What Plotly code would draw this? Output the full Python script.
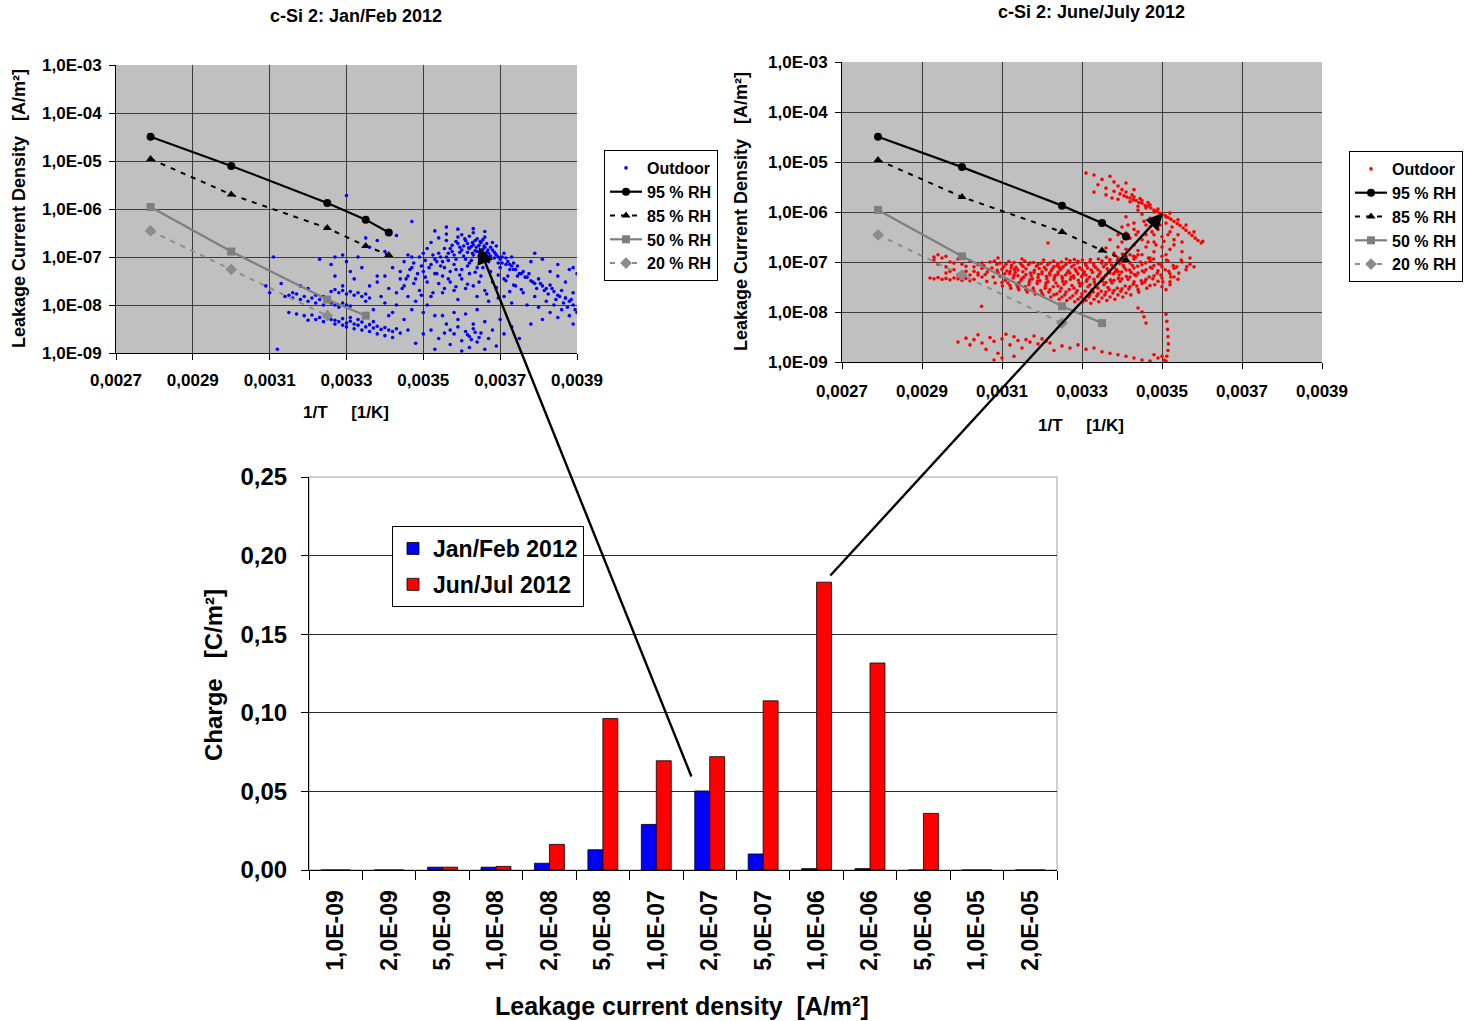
import plotly.graph_objects as go

W, H = 1465, 1021

# ---------------- data: laboratory RH curves (same in both scatter charts) ----------------
rh95_x = [0.00279, 0.00300, 0.00325, 0.00335, 0.00341]
rh95_y = [3.2e-5, 7.9e-6, 1.34e-6, 6.0e-7, 3.25e-7]
rh85_x = [0.00279, 0.00300, 0.00325, 0.00335, 0.00341]
rh85_y = [1.1e-5, 2.0e-6, 4.0e-7, 1.7e-7, 1.1e-7]
rh50_x = [0.00279, 0.00300, 0.00325, 0.00335]
rh50_y = [1.1e-6, 1.3e-7, 1.3e-8, 6.0e-9]
rh20_x = [0.00279, 0.00300, 0.00325]
rh20_y = [3.5e-7, 5.5e-8, 6.0e-9]

# ---------------- data: outdoor Jan/Feb (x = 1/T, y = leakage current density) ----------------
jan_peak = [
    (0.00362, 1.5e-7), (0.00363, 1.8e-7), (0.00364, 1.3e-7), (0.00365, 2.0e-7), (0.00361, 2.2e-7),
    (0.00366, 1.6e-7), (0.00363, 1.1e-7), (0.00360, 1.4e-7), (0.00359, 1.9e-7), (0.00367, 1.2e-7),
    (0.00364, 2.4e-7), (0.00362, 2.7e-7), (0.00358, 1.1e-7), (0.00368, 1.4e-7), (0.00361, 9e-8),
    (0.00365, 9.5e-8), (0.00369, 1.1e-7), (0.00357, 1.5e-7), (0.00356, 1.0e-7), (0.00360, 2.9e-7),
    (0.00366, 2.6e-7), (0.00363, 3.2e-7), (0.00370, 9e-8), (0.00371, 1.2e-7), (0.00355, 8e-8),
    (0.00358, 7e-8), (0.00362, 7.5e-8), (0.00367, 8e-8), (0.00354, 1.2e-7), (0.00353, 9e-8),
    (0.00372, 8e-8), (0.00373, 6.5e-8), (0.00356, 2.2e-7), (0.00359, 2.6e-7), (0.00352, 7e-8),
    (0.00351, 1.5e-7), (0.00366, 3.4e-7), (0.00368, 2.0e-7), (0.00364, 6e-8), (0.00360, 5.5e-8),
    (0.00357, 5e-8), (0.00370, 6e-8), (0.00374, 5.5e-8), (0.00375, 4.5e-8), (0.00376, 5e-8),
    (0.00377, 3.8e-8), (0.00378, 3.2e-8), (0.00379, 2.8e-8), (0.00380, 3.5e-8), (0.00381, 2.5e-8),
    (0.00382, 2.2e-8), (0.00383, 2.6e-8), (0.00384, 1.9e-8), (0.00385, 1.6e-8), (0.00386, 2.0e-8),
    (0.00387, 1.4e-8), (0.00388, 1.2e-8), (0.00389, 1.0e-8), (0.00372, 4e-8), (0.00371, 3.5e-8),
    (0.00355, 4e-8), (0.00353, 4.5e-8), (0.00350, 5e-8), (0.00349, 1.0e-7), (0.00347, 6e-8),
    (0.00348, 3.5e-8), (0.00346, 4e-8), (0.00345, 2.5e-8), (0.00344, 5e-8), (0.00351, 3e-8),
    (0.00354, 2.8e-8), (0.00357, 3e-8), (0.00360, 3.5e-8), (0.00362, 4.5e-8), (0.00365, 4e-8),
    (0.00368, 3e-8), (0.00363, 2.5e-8), (0.00358, 2e-8), (0.00361, 2.2e-8), (0.00366, 2e-8),
    (0.00369, 2.3e-8), (0.00374, 2.5e-8), (0.00376, 1.8e-8), (0.00379, 1.5e-8), (0.00382, 1.2e-8),
    (0.00384, 1.0e-8), (0.00386, 8e-9), (0.00388, 6e-9), (0.00390, 7e-9), (0.00389, 1.8e-8),
    (0.00387, 3e-8), (0.00385, 4e-8), (0.00383, 5e-8), (0.00390, 4.5e-8), (0.00388, 5.5e-8),
    (0.00378, 8e-8), (0.00373, 1.0e-7), (0.00369, 1.7e-7), (0.00356, 3e-7), (0.00354, 2.5e-7),
    (0.00352, 2.0e-7), (0.00350, 1.2e-7), (0.00347, 1.0e-7), (0.00345, 8e-8), (0.00342, 6e-8),
    (0.00340, 4e-8), (0.00338, 3e-8), (0.00343, 1.8e-8), (0.00341, 2.2e-8), (0.00346, 1.5e-8),
    (0.00349, 2e-8), (0.00352, 1.5e-8), (0.00355, 1.8e-8), (0.00359, 1.3e-8), (0.00364, 1.5e-8),
    (0.00367, 1.2e-8), (0.00371, 1.5e-8), (0.00373, 1.1e-8), (0.00377, 1.0e-8), (0.00380, 9e-9),
    (0.00383, 7e-9), (0.00385, 5.5e-9), (0.00389, 4e-9), (0.00387, 1.4e-8), (0.00381, 5e-9),
    (0.003625, 1.65e-7), (0.003635, 1.35e-7), (0.003645, 1.75e-7), (0.003615, 1.25e-7), (0.003655, 1.45e-7),
    (0.003605, 1.7e-7), (0.003665, 1.9e-7), (0.003595, 1.25e-7), (0.003675, 1.05e-7), (0.003585, 9e-8),
    (0.003685, 9.5e-8), (0.003695, 7.5e-8), (0.003575, 1.3e-7), (0.003565, 8.5e-8), (0.003545, 6.5e-8),
    (0.003705, 1.0e-7), (0.003715, 7e-8), (0.003725, 5.5e-8), (0.003735, 7.5e-8), (0.003745, 4e-8),
]
jan_peak_fill = [
    (0.003605, 1.05e-7), (0.003615, 1.9e-7), (0.003625, 8.5e-8), (0.003635, 2.2e-7), (0.003645, 1.05e-7),
    (0.003655, 2.3e-7), (0.003665, 1.25e-7), (0.003675, 1.6e-7), (0.003685, 1.25e-7), (0.003695, 1.0e-7),
    (0.003595, 1.6e-7), (0.003585, 2.1e-7), (0.003575, 1.75e-7), (0.003565, 1.2e-7), (0.003555, 1.5e-7),
    (0.003545, 1.0e-7), (0.003535, 8e-8), (0.003525, 1.1e-7), (0.003515, 6e-8), (0.003505, 8.5e-8),
    (0.003495, 6.5e-8), (0.003485, 4.5e-8), (0.003475, 7.5e-8), (0.003465, 5.5e-8), (0.003455, 3.5e-8),
    (0.003705, 7.5e-8), (0.003715, 9.5e-8), (0.003725, 7e-8), (0.003735, 5.5e-8), (0.003745, 6.5e-8),
    (0.003755, 4.5e-8), (0.003765, 3.8e-8), (0.003775, 4.5e-8), (0.003785, 3e-8), (0.003795, 2.2e-8),
    (0.003805, 2.8e-8), (0.003815, 2e-8), (0.003825, 1.7e-8), (0.003835, 2.2e-8), (0.003845, 1.3e-8),
    (0.003855, 1.5e-8), (0.003865, 1.1e-8), (0.003875, 9e-9), (0.003885, 1.3e-8), (0.003895, 8e-9),
    (0.003615, 6.5e-8), (0.003585, 5.5e-8), (0.003555, 6e-8), (0.003655, 6e-8), (0.003675, 5e-8),
    (0.003635, 4.8e-8), (0.003595, 4.2e-8), (0.003565, 3.5e-8), (0.003535, 4.5e-8), (0.003505, 3.8e-8),
    (0.003475, 2.8e-8), (0.003445, 2.2e-8), (0.003695, 4.2e-8), (0.003715, 3.2e-8), (0.003735, 2.6e-8),
    (0.003755, 2.1e-8), (0.003645, 3e-8), (0.003615, 2.7e-8), (0.003585, 2.4e-8), (0.003555, 2.2e-8),
    (0.003525, 1.8e-8), (0.003495, 1.6e-8), (0.003665, 1.7e-8), (0.003695, 1.4e-8), (0.003725, 1.9e-8),
    (0.003628, 1.2e-7), (0.003638, 1.6e-7), (0.003648, 1.25e-7), (0.003618, 1.55e-7), (0.003658, 1.7e-7),
    (0.003608, 2.4e-7), (0.003628, 2.0e-7), (0.003648, 2.1e-7), (0.003668, 1.4e-7), (0.003688, 1.15e-7),
]
jan_lower = [
    (0.00352, 3e-9), (0.00354, 2e-9), (0.00356, 4e-9), (0.00357, 1.5e-9), (0.00358, 2.5e-9),
    (0.00359, 3.5e-9), (0.00360, 1.8e-9), (0.00361, 2.8e-9), (0.00362, 2.2e-9), (0.00363, 3.2e-9),
    (0.00362, 1.3e-9), (0.00364, 1.7e-9), (0.00365, 2.6e-9), (0.00366, 4.5e-9), (0.00367, 2e-9),
    (0.00368, 3e-9), (0.00369, 1.4e-9), (0.00370, 5e-9), (0.00355, 6e-9), (0.00358, 7e-9),
    (0.00361, 6.5e-9), (0.00364, 8e-9), (0.00350, 2.5e-9), (0.00348, 1.6e-9), (0.00346, 3e-9),
    (0.00353, 1.2e-9), (0.00371, 2.5e-9), (0.00373, 3.5e-9), (0.00375, 2e-9), (0.00378, 4e-9),
    (0.00360, 1.1e-9), (0.00366, 1.2e-9), (0.00363, 4e-9), (0.00359, 5e-9), (0.00357, 3e-9),
    (0.003615, 2.4e-9), (0.003625, 1.9e-9), (0.003635, 2.7e-9), (0.003645, 2.1e-9), (0.003555, 2.6e-9),
]
jan_mid = [
    (0.00335, 1.2e-8), (0.00337, 8e-9), (0.00339, 1.5e-8), (0.00341, 6e-9), (0.00343, 1e-8),
    (0.00344, 3.5e-8), (0.00336, 2.5e-8), (0.00338, 4e-8), (0.00340, 1.1e-8), (0.00342, 7e-9),
    (0.00345, 5e-9), (0.00347, 8e-9), (0.00348, 1.2e-8), (0.00350, 7e-9), (0.00351, 1e-8),
    (0.00353, 6e-9), (0.00334, 6e-8), (0.00333, 1.0e-7), (0.00331, 5e-8), (0.00329, 2.5e-8),
    (0.00332, 3.5e-8), (0.00346, 1.1e-7), (0.00340, 1.3e-7), (0.00336, 1.6e-7), (0.00330, 8e-8),
    (0.00327, 4e-8), (0.00385, 7e-8), (0.00389, 6e-8), (0.00381, 9e-8), (0.00379, 1.2e-7),
]
jan_tail_upper = [
    (0.00314, 1.5e-8), (0.00315, 1.6e-8), (0.00316, 1.4e-8), (0.00317, 1.7e-8), (0.00318, 1.3e-8),
    (0.00319, 1.5e-8), (0.00320, 1.2e-8), (0.00321, 1.4e-8), (0.00322, 1.1e-8), (0.00323, 1.3e-8),
    (0.00324, 1.0e-8), (0.00325, 1.2e-8), (0.00326, 1.1e-8), (0.00327, 1.0e-8), (0.00328, 9e-9),
    (0.00329, 1.1e-8), (0.00330, 1.0e-8), (0.00331, 9.5e-9), (0.00326, 1.9e-8), (0.00327, 2.1e-8),
    (0.00328, 1.8e-8), (0.00329, 2.0e-8), (0.00330, 1.7e-8), (0.00331, 1.9e-8), (0.00332, 1.6e-8),
    (0.00333, 1.8e-8), (0.00334, 1.5e-8), (0.00335, 1.7e-8), (0.00336, 1.4e-8), (0.00320, 2.2e-8),
    (0.00318, 2.5e-8), (0.00316, 1.8e-8), (0.00322, 1.6e-8), (0.00324, 1.5e-8),
]
jan_tail_lower = [
    (0.00315, 7e-9), (0.00317, 6.5e-9), (0.00319, 6e-9), (0.00321, 6.2e-9), (0.00323, 5.5e-9),
    (0.00325, 5.8e-9), (0.00326, 5e-9), (0.00327, 4.8e-9), (0.00328, 4.5e-9), (0.00329, 5.2e-9),
    (0.00330, 4.2e-9), (0.00331, 4.6e-9), (0.00332, 4e-9), (0.00333, 3.8e-9), (0.00334, 4.4e-9),
    (0.00335, 3.5e-9), (0.00336, 3.9e-9), (0.00337, 3.3e-9), (0.00338, 3.6e-9), (0.00339, 3.1e-9),
    (0.00340, 3.4e-9), (0.00341, 3e-9), (0.00342, 2.8e-9), (0.00343, 3.2e-9), (0.00344, 2.6e-9),
    (0.00330, 3.5e-9), (0.00332, 3.2e-9), (0.00334, 3e-9), (0.00336, 2.8e-9), (0.00338, 2.5e-9),
    (0.00329, 3.8e-9), (0.00327, 4e-9), (0.00333, 5e-9), (0.00331, 5.5e-9), (0.00324, 4.5e-9),
    (0.00322, 5e-9), (0.00320, 4.8e-9), (0.00340, 2.3e-9), (0.00342, 2.1e-9), (0.00337, 4.5e-9),
]
jan_outliers = [
    (0.00330, 1.9e-6), (0.00347, 5.5e-7), (0.00312, 1.2e-9), (0.00311, 1.0e-7), (0.00309, 2.5e-8),
    (0.00310, 1.8e-8), (0.00313, 2.8e-8), (0.00326, 7e-8), (0.00323, 9e-8), (0.00327, 1.0e-7),
    (0.00329, 1.1e-7), (0.00335, 2.5e-7), (0.00338, 2.2e-7), (0.00343, 2.8e-7), (0.00353, 3.5e-7),
    (0.00359, 3.8e-7), (0.00363, 3.9e-7), (0.00356, 4.2e-7),
]

# ---------------- data: outdoor June/July ----------------
jun_band = [
    (0.002920, 4.8e-8), (0.002930, 4.6e-8), (0.002940, 4.9e-8), (0.002950, 4.5e-8), (0.002960, 4.7e-8),
    (0.002970, 4.4e-8), (0.002980, 4.8e-8), (0.002990, 4.6e-8), (0.003000, 4.3e-8), (0.003010, 4.7e-8),
    (0.003020, 4.2e-8), (0.003030, 4.5e-8),
    (0.002930, 1.1e-7), (0.002940, 9e-8), (0.002950, 1.2e-7), (0.002960, 8e-8), (0.002970, 1.0e-7),
    (0.002980, 7e-8), (0.002990, 1.15e-7), (0.003000, 9e-8), (0.003010, 6.5e-8), (0.003020, 1.05e-7),
    (0.003030, 8e-8), (0.003040, 6e-8), (0.003050, 9.5e-8), (0.002960, 6e-8), (0.002990, 5.5e-8),
    (0.003020, 5.5e-8),
    (0.003062, 4.1e-8), (0.003058, 5.6e-8), (0.003066, 7.1e-8), (0.003055, 8.4e-8), (0.003070, 1.0e-7),
    (0.003083, 3.8e-8), (0.003078, 5.0e-8), (0.003090, 6.1e-8), (0.003075, 7.6e-8), (0.003087, 9.0e-8),
    (0.003081, 1.04e-7), (0.003101, 3.3e-8), (0.003108, 4.3e-8), (0.003096, 5.2e-8), (0.003112, 6.6e-8),
    (0.003104, 8.0e-8), (0.003095, 9.5e-8), (0.003122, 3.0e-8), (0.003115, 3.8e-8), (0.003128, 4.8e-8),
    (0.003119, 5.9e-8), (0.003131, 7.0e-8), (0.003124, 8.6e-8), (0.003117, 1.02e-7), (0.003142, 2.8e-8),
    (0.003137, 3.5e-8), (0.003148, 4.4e-8), (0.003140, 5.3e-8), (0.003152, 6.4e-8), (0.003135, 7.8e-8),
    (0.003146, 9.4e-8), (0.003163, 2.5e-8), (0.003158, 3.2e-8), (0.003168, 4.0e-8), (0.003155, 5.0e-8),
    (0.003171, 6.0e-8), (0.003160, 7.3e-8), (0.003166, 8.8e-8), (0.003157, 1.05e-7), (0.003183, 2.3e-8),
    (0.003178, 3.0e-8), (0.003188, 3.7e-8), (0.003176, 4.6e-8), (0.003191, 5.6e-8), (0.003181, 6.8e-8),
    (0.003186, 8.2e-8), (0.003179, 9.8e-8), (0.003203, 2.1e-8), (0.003197, 2.7e-8), (0.003209, 3.4e-8),
    (0.003195, 4.2e-8), (0.003211, 5.2e-8), (0.003200, 6.4e-8), (0.003206, 7.8e-8), (0.003198, 9.4e-8),
    (0.003204, 1.1e-7), (0.003222, 2.0e-8), (0.003217, 2.5e-8), (0.003228, 3.2e-8), (0.003215, 4.0e-8),
    (0.003231, 4.9e-8), (0.003219, 6.0e-8), (0.003226, 7.3e-8), (0.003214, 8.8e-8), (0.003229, 1.05e-7),
    (0.003243, 1.8e-8), (0.003237, 2.3e-8), (0.003248, 3.0e-8), (0.003235, 3.8e-8), (0.003251, 4.7e-8),
    (0.003240, 5.7e-8), (0.003246, 7.0e-8), (0.003238, 8.5e-8), (0.003249, 1.0e-7), (0.003262, 1.7e-8),
    (0.003257, 2.2e-8), (0.003268, 2.8e-8), (0.003255, 3.6e-8), (0.003271, 4.5e-8), (0.003259, 5.5e-8),
    (0.003266, 6.7e-8), (0.003254, 8.2e-8), (0.003269, 9.8e-8), (0.003261, 1.15e-7), (0.003282, 1.6e-8),
    (0.003277, 2.1e-8), (0.003288, 2.7e-8), (0.003275, 3.4e-8), (0.003291, 4.3e-8), (0.003279, 5.3e-8),
    (0.003286, 6.5e-8), (0.003274, 8.0e-8), (0.003289, 9.6e-8), (0.003281, 1.12e-7), (0.003302, 1.6e-8),
    (0.003297, 2.0e-8), (0.003308, 2.6e-8), (0.003295, 3.3e-8), (0.003311, 4.1e-8), (0.003299, 5.1e-8),
    (0.003306, 6.3e-8), (0.003294, 7.7e-8), (0.003309, 9.3e-8), (0.003301, 1.1e-7), (0.003322, 1.5e-8),
    (0.003317, 2.0e-8), (0.003328, 2.5e-8), (0.003315, 3.2e-8), (0.003331, 4.0e-8), (0.003319, 5.0e-8),
    (0.003326, 6.2e-8), (0.003314, 7.6e-8), (0.003329, 9.2e-8), (0.003321, 1.12e-7), (0.003342, 1.6e-8),
    (0.003337, 2.1e-8), (0.003348, 2.6e-8), (0.003335, 3.3e-8), (0.003351, 4.1e-8), (0.003339, 5.1e-8),
    (0.003346, 6.3e-8), (0.003334, 7.8e-8), (0.003349, 9.5e-8), (0.003341, 1.15e-7), (0.003362, 1.7e-8),
    (0.003357, 2.2e-8), (0.003368, 2.8e-8), (0.003355, 3.5e-8), (0.003371, 4.4e-8), (0.003359, 5.4e-8),
    (0.003366, 6.6e-8), (0.003354, 8.1e-8), (0.003369, 1.0e-7), (0.003361, 1.25e-7), (0.003382, 1.8e-8),
    (0.003377, 2.4e-8), (0.003388, 3.0e-8), (0.003375, 3.8e-8), (0.003391, 4.7e-8), (0.003379, 5.8e-8),
    (0.003386, 7.1e-8), (0.003374, 8.7e-8), (0.003389, 1.07e-7), (0.003381, 1.35e-7), (0.003402, 2.0e-8),
    (0.003397, 2.6e-8), (0.003408, 3.3e-8), (0.003395, 4.1e-8), (0.003411, 5.1e-8), (0.003399, 6.3e-8),
    (0.003406, 7.7e-8), (0.003394, 9.4e-8), (0.003409, 1.15e-7), (0.003401, 1.45e-7), (0.003422, 2.2e-8),
    (0.003417, 2.9e-8), (0.003428, 3.6e-8), (0.003415, 4.5e-8), (0.003431, 5.6e-8), (0.003419, 6.9e-8),
    (0.003426, 8.5e-8), (0.003414, 1.05e-7), (0.003429, 1.3e-7), (0.003442, 2.5e-8), (0.003437, 3.3e-8),
    (0.003448, 4.2e-8), (0.003435, 5.3e-8), (0.003451, 6.6e-8), (0.003439, 8.2e-8), (0.003446, 1.0e-7),
    (0.003434, 1.25e-7), (0.003462, 3.0e-8), (0.003457, 4.0e-8), (0.003468, 5.0e-8), (0.003455, 6.3e-8),
    (0.003471, 7.8e-8), (0.003459, 9.6e-8), (0.003466, 1.2e-7), (0.003482, 3.5e-8), (0.003477, 4.6e-8),
    (0.003488, 6.0e-8), (0.003475, 7.5e-8), (0.003491, 9.3e-8), (0.003479, 1.15e-7), (0.003502, 4.0e-8),
    (0.003497, 5.5e-8), (0.003508, 7.0e-8), (0.003495, 9.0e-8), (0.003511, 1.1e-7), (0.003522, 5.0e-8),
    (0.003517, 6.5e-8), (0.003528, 8.5e-8), (0.003515, 1.05e-7), (0.003542, 6.0e-8), (0.003537, 8.0e-8),
    (0.003548, 1.1e-7), (0.003562, 8.0e-8),
]
jun_band_extra = [
    (0.003107, 5.8e-8), (0.003133, 6.2e-8), (0.003173, 5.3e-8), (0.003189, 4.1e-8), (0.003212, 4.6e-8),
    (0.003233, 5.4e-8), (0.003252, 4.1e-8), (0.003273, 5.0e-8), (0.003293, 3.8e-8), (0.003313, 4.5e-8),
    (0.003333, 3.6e-8), (0.003353, 4.7e-8), (0.003373, 4.1e-8), (0.003393, 5.5e-8), (0.003143, 3.9e-8),
    (0.003167, 3.5e-8), (0.003208, 3.0e-8), (0.003245, 2.6e-8), (0.003285, 2.4e-8), (0.003325, 2.8e-8),
    (0.003365, 3.1e-8), (0.003223, 6.7e-8), (0.003263, 6.1e-8), (0.003303, 5.7e-8), (0.003343, 5.7e-8),
    (0.003383, 6.4e-8), (0.003423, 6.2e-8), (0.003193, 7.4e-8), (0.003243, 7.8e-8), (0.003283, 7.2e-8),
    (0.003323, 6.9e-8), (0.003363, 7.3e-8), (0.003403, 8.5e-8), (0.003123, 7.7e-8), (0.003153, 8.1e-8),
    (0.003088, 6.8e-8), (0.003063, 6.3e-8), (0.002940, 1.4e-7), (0.002960, 1.3e-7), (0.002930, 1.25e-7),
    (0.003000, 1.35e-7), (0.003090, 1.2e-7), (0.003150, 1.15e-7), (0.003049, 1.3e-8), (0.003215, 2.4e-7),
]
jun_band_fill = [
    (0.003100, 3.9e-8), (0.003100, 7.2e-8), (0.003110, 4.5e-8), (0.003110, 9.0e-8), (0.003120, 3.4e-8),
    (0.003120, 6.5e-8), (0.003130, 5.4e-8), (0.003130, 9.8e-8), (0.003140, 3.1e-8), (0.003140, 6.9e-8),
    (0.003150, 4.7e-8), (0.003150, 8.6e-8), (0.003160, 2.8e-8), (0.003160, 5.6e-8), (0.003170, 4.4e-8),
    (0.003170, 9.6e-8), (0.003180, 2.6e-8), (0.003180, 6.2e-8), (0.003190, 4.9e-8), (0.003190, 8.9e-8),
    (0.003200, 2.4e-8), (0.003200, 5.8e-8), (0.003210, 3.8e-8), (0.003210, 7.1e-8), (0.003220, 2.8e-8),
    (0.003220, 5.5e-8), (0.003220, 9.6e-8), (0.003230, 2.2e-8), (0.003230, 4.4e-8), (0.003230, 8.1e-8),
    (0.003240, 3.3e-8), (0.003240, 6.3e-8), (0.003240, 9.3e-8), (0.003250, 2.0e-8), (0.003250, 5.1e-8),
    (0.003250, 7.6e-8), (0.003260, 2.5e-8), (0.003260, 4.0e-8), (0.003260, 8.9e-8), (0.003270, 1.9e-8),
    (0.003270, 6.0e-8), (0.003270, 1.06e-7), (0.003280, 3.0e-8), (0.003280, 4.8e-8), (0.003280, 8.7e-8),
    (0.003290, 1.8e-8), (0.003290, 5.8e-8), (0.003290, 1.03e-7), (0.003300, 2.3e-8), (0.003300, 3.7e-8),
    (0.003300, 7.0e-8), (0.003310, 1.7e-8), (0.003310, 5.5e-8), (0.003310, 8.5e-8), (0.003320, 2.2e-8),
    (0.003320, 3.5e-8), (0.003320, 1.0e-7), (0.003330, 1.8e-8), (0.003330, 4.5e-8), (0.003330, 8.3e-8),
    (0.003340, 2.3e-8), (0.003340, 3.0e-8), (0.003340, 7.0e-8), (0.003350, 1.9e-8), (0.003350, 4.6e-8),
    (0.003350, 1.05e-7), (0.003360, 2.5e-8), (0.003360, 3.9e-8), (0.003360, 9.0e-8), (0.003370, 2.0e-8),
    (0.003370, 6.0e-8), (0.003370, 1.12e-7), (0.003380, 2.7e-8), (0.003380, 4.3e-8), (0.003380, 7.9e-8),
    (0.003390, 2.2e-8), (0.003390, 6.5e-8), (0.003390, 1.2e-7), (0.003400, 2.9e-8), (0.003400, 4.6e-8),
    (0.003400, 1.05e-7), (0.003410, 2.4e-8), (0.003410, 7.0e-8), (0.003410, 1.3e-7), (0.003420, 3.2e-8),
    (0.003420, 5.0e-8), (0.003420, 9.5e-8), (0.003430, 4.0e-8), (0.003430, 7.6e-8), (0.003430, 1.15e-7),
    (0.003440, 2.8e-8), (0.003440, 6.0e-8), (0.003440, 1.4e-7), (0.003450, 3.7e-8), (0.003450, 8.8e-8),
    (0.003460, 4.5e-8), (0.003460, 7.0e-8), (0.003470, 3.4e-8), (0.003470, 1.05e-7), (0.003480, 5.3e-8),
    (0.003480, 8.5e-8), (0.003490, 4.1e-8), (0.003490, 6.7e-8), (0.003500, 4.8e-8), (0.003500, 8.0e-8),
    (0.003520, 5.8e-8), (0.003530, 7.5e-8), (0.003050, 5.0e-8), (0.003050, 7.5e-8), (0.003040, 5.5e-8),
    (0.003040, 8.8e-8), (0.003030, 6.5e-8), (0.003010, 8.2e-8), (0.003000, 6.0e-8), (0.002980, 9.5e-8),
    (0.002970, 6.5e-8),
]
jun_streak = [
    (0.003395, 2.3e-6), (0.003405, 2.1e-6), (0.003412, 2.0e-6), (0.003420, 1.9e-6), (0.003428, 1.75e-6),
    (0.003435, 1.7e-6), (0.003442, 1.55e-6), (0.003450, 1.5e-6), (0.003458, 1.35e-6), (0.003465, 1.3e-6),
    (0.003472, 1.2e-6), (0.003480, 1.1e-6), (0.003487, 1.05e-6), (0.003494, 9.5e-7), (0.003500, 9e-7),
    (0.003508, 8.5e-7), (0.003515, 7.8e-7), (0.003522, 7.2e-7), (0.003530, 6.5e-7), (0.003538, 5.9e-7),
    (0.003545, 5.4e-7), (0.003553, 4.8e-7), (0.003560, 4.3e-7), (0.003568, 3.8e-7), (0.003575, 3.4e-7),
    (0.003583, 3.0e-7), (0.003590, 2.7e-7), (0.003598, 2.4e-7), (0.003602, 2.6e-7),
    (0.003410, 2.5e-6), (0.003430, 2.0e-6), (0.003450, 1.7e-6), (0.003470, 1.4e-6), (0.003490, 1.15e-6),
    (0.003440, 1.3e-6), (0.003460, 1.2e-6), (0.003480, 1.0e-6), (0.003510, 8e-7), (0.003520, 9.5e-7),
    (0.003540, 7e-7), (0.003560, 5.5e-7), (0.003580, 4e-7), (0.003420, 1.6e-6), (0.003390, 1.8e-6),
    (0.003400, 2.8e-6), (0.003380, 2.6e-6), (0.003425, 2.2e-6), (0.003445, 1.85e-6), (0.003465, 1.55e-6),
]
jun_upper_sparse = [
    (0.00333, 5.5e-6), (0.00335, 4.5e-6), (0.00334, 3.5e-6), (0.00337, 5.2e-6), (0.00336, 3e-6),
    (0.00338, 4e-6), (0.00339, 3.3e-6), (0.00331, 6e-6), (0.00333, 2.5e-6), (0.00336, 2.2e-6),
    (0.003375, 1.9e-6), (0.00341, 3.8e-6), (0.00343, 2.8e-6),
]
jun_between = [
    (0.00338, 1.5e-7), (0.00339, 2e-7), (0.00340, 2.5e-7), (0.00341, 1.8e-7), (0.00342, 3e-7),
    (0.00343, 2.2e-7), (0.00344, 4e-7), (0.00345, 2.8e-7), (0.00346, 3.5e-7), (0.00347, 5e-7),
    (0.00348, 2.5e-7), (0.00349, 4.5e-7), (0.00350, 3.2e-7), (0.00351, 6e-7), (0.00352, 4e-7),
    (0.00353, 2.8e-7), (0.00354, 3.5e-7), (0.00350, 2e-7), (0.00348, 1.6e-7), (0.00346, 2e-7),
    (0.00344, 1.7e-7), (0.00342, 1.4e-7), (0.00352, 1.8e-7), (0.00353, 2.2e-7), (0.00349, 6.5e-7),
    (0.00347, 7.5e-7), (0.00345, 9e-7), (0.00343, 6e-7), (0.00341, 8e-7), (0.00344, 1.1e-6),
    (0.00346, 5.5e-7), (0.00348, 3.5e-7), (0.00351, 1.4e-7), (0.00355, 1.6e-7), (0.00355, 2.5e-7),
    (0.00340, 5e-7), (0.00339, 3.5e-7), (0.00337, 2.8e-7), (0.00336, 1.9e-7), (0.00345, 1.4e-7),
    (0.00347, 1.2e-7), (0.00350, 1.3e-7), (0.00343, 4.5e-7), (0.00341, 3.8e-7), (0.00349, 8e-7),
    (0.003455, 6.5e-7), (0.003475, 4e-7), (0.003495, 5.5e-7), (0.003515, 3.5e-7), (0.003435, 3.5e-7),
    (0.003485, 2.2e-7), (0.003505, 2.6e-7), (0.003465, 2.5e-7), (0.003525, 5e-7), (0.003415, 5.5e-7),
]
jun_right = [
    (0.00355, 1e-7), (0.00356, 7e-8), (0.00357, 9e-8), (0.00357, 1.2e-7), (0.00358, 8e-8),
    (0.00353, 5e-8), (0.00352, 4e-8), (0.00354, 4.5e-8), (0.00352, 3.5e-8), (0.00351, 2.8e-8),
    (0.00350, 3.2e-8),
]
jun_lower = [
    (0.00299, 2.5e-9), (0.00301, 3e-9), (0.00302, 2.2e-9), (0.00303, 2.8e-9), (0.00304, 3.5e-9),
    (0.00305, 2.4e-9), (0.00306, 1.8e-9), (0.00307, 3.1e-9), (0.00308, 2.6e-9), (0.00309, 1.5e-9),
    (0.00310, 2.9e-9), (0.00311, 3.6e-9), (0.00312, 2.2e-9), (0.00313, 3.2e-9), (0.00314, 2.7e-9),
    (0.00315, 1.9e-9), (0.00316, 2.8e-9), (0.00317, 2.5e-9), (0.00318, 3.3e-9), (0.00319, 2.3e-9),
    (0.00320, 2.9e-9), (0.00321, 2.6e-9), (0.00322, 2.4e-9), (0.00323, 1.7e-9), (0.00325, 2.1e-9),
    (0.00327, 1.9e-9), (0.00329, 2.2e-9), (0.00331, 1.8e-9), (0.00333, 1.9e-9), (0.00335, 1.6e-9),
    (0.00337, 1.5e-9), (0.00339, 1.4e-9), (0.00341, 1.3e-9), (0.00343, 1.2e-9), (0.00345, 1.1e-9),
    (0.00347, 1.05e-9), (0.00349, 1.2e-9), (0.00348, 1.4e-9), (0.00310, 1.2e-9), (0.00308, 1.1e-9),
    (0.00313, 1.3e-9),
    (0.003510, 9e-9), (0.003512, 6.5e-9), (0.003514, 4.5e-9), (0.003515, 3.2e-9), (0.003516, 2.3e-9),
    (0.003515, 1.7e-9), (0.003512, 1.3e-9), (0.003510, 1.05e-9), (0.003505, 1.1e-9), (0.003500, 1.3e-9),
    (0.00344, 1.2e-8), (0.00345, 1e-8), (0.003455, 8e-9), (0.00346, 6e-9),
]

# ---------------- data: bar chart ----------------
bar_categories = ["1,0E-09", "2,0E-09", "5,0E-09", "1,0E-08", "2,0E-08", "5,0E-08", "1,0E-07",
                  "2,0E-07", "5,0E-07", "1,0E-06", "2,0E-06", "5,0E-06", "1,0E-05", "2,0E-05"]
charge_janfeb = [0, 0, 0.0018, 0.0018, 0.0043, 0.0129, 0.029, 0.0503, 0.0102, 0.0009, 0.0009, 0, 0, 0]
charge_junjul = [0, 0, 0.0018, 0.0023, 0.0163, 0.0964, 0.0695, 0.0721, 0.1076, 0.1831, 0.1317, 0.0360, 0, 0]

log_tickvals = [1e-9, 1e-8, 1e-7, 1e-6, 1e-5, 1e-4, 1e-3]
log_ticktext = ["1,0E-09", "1,0E-08", "1,0E-07", "1,0E-06", "1,0E-05", "1,0E-04", "1,0E-03"]
invT_tickvals = [0.0027, 0.0029, 0.0031, 0.0033, 0.0035, 0.0037, 0.0039]
invT_ticktext = ["0,0027", "0,0029", "0,0031", "0,0033", "0,0035", "0,0037", "0,0039"]
charge_tickvals = [0, 0.05, 0.10, 0.15, 0.20, 0.25]
charge_ticktext = ["0,00", "0,05", "0,10", "0,15", "0,20", "0,25"]

# ---------------- helpers ----------------
FONT = "Liberation Sans, Arial, sans-serif"


def fx(p):
    return p / W


def fy(p):
    return 1 - p / H


def unzip(*groups):
    pts = [p for g in groups for p in g]
    return [p[0] for p in pts], [p[1] for p in pts]


jan_x, jan_y = unzip(jan_peak, jan_peak_fill, jan_lower, jan_mid, jan_tail_upper, jan_tail_lower, jan_outliers)
jun_x, jun_y = unzip(jun_band, jun_band_extra, jun_band_fill, jun_streak, jun_upper_sparse, jun_between,
                     jun_right, jun_lower)

fig = go.Figure()

GRAY_DARK = "#7f7f7f"
GRAY_LIGHT = "#8c8c8c"


def add_scatter_panel(xa, ya, legend, ox, oy, color):
    fig.add_trace(go.Scatter(x=ox, y=oy, mode="markers", name="Outdoor", xaxis=xa, yaxis=ya,
                             legend=legend, marker=dict(color=color, size=3.6, line=dict(width=0))))
    fig.add_trace(go.Scatter(x=rh95_x, y=rh95_y, mode="lines+markers", name="95 % RH", xaxis=xa, yaxis=ya,
                             legend=legend, line=dict(color="black", width=2.2),
                             marker=dict(symbol="circle", size=8, color="black")))
    fig.add_trace(go.Scatter(x=rh85_x, y=rh85_y, mode="lines+markers", name="85 % RH", xaxis=xa, yaxis=ya,
                             legend=legend, line=dict(color="black", width=2, dash="5px,6px"),
                             marker=dict(symbol="triangle-up", size=8, color="black")))
    fig.add_trace(go.Scatter(x=rh50_x, y=rh50_y, mode="lines+markers", name="50 % RH", xaxis=xa, yaxis=ya,
                             legend=legend, line=dict(color=GRAY_DARK, width=2.2),
                             marker=dict(symbol="square", size=8, color=GRAY_DARK)))
    fig.add_trace(go.Scatter(x=rh20_x, y=rh20_y, mode="lines+markers", name="20 % RH", xaxis=xa, yaxis=ya,
                             legend=legend, line=dict(color=GRAY_LIGHT, width=2, dash="5px,6px"),
                             marker=dict(symbol="diamond", size=9, color=GRAY_LIGHT)))


add_scatter_panel("x", "y", "legend", jan_x, jan_y, "#0000ff")
add_scatter_panel("x2", "y2", "legend2", jun_x, jun_y, "#ff0000")

fig.add_trace(go.Bar(x=bar_categories, y=charge_janfeb, name="Jan/Feb 2012", xaxis="x3", yaxis="y3",
                     legend="legend3", legendgroup="a",
                     marker=dict(color="#0000ff", line=dict(color="#000000", width=0.8))))
fig.add_trace(go.Bar(x=bar_categories, y=charge_junjul, name="Jun/Jul 2012", xaxis="x3", yaxis="y3",
                     legend="legend3", legendgroup="b",
                     marker=dict(color="#ff0000", line=dict(color="#000000", width=0.8))))

tick_font = dict(family=FONT, size=17, color="black", weight="bold")
GRID = "#3c3c3c"


def scatter_axes(dom_x, dom_y, xa_anchor, ya_anchor, xstand):
    xa = dict(domain=dom_x, anchor=ya_anchor, range=[0.0027, 0.0039], tickvals=invT_tickvals,
              ticktext=invT_ticktext, showgrid=True, gridcolor=GRID, gridwidth=1, showline=True,
              linecolor="black", linewidth=1, ticks="outside", ticklen=6, tickcolor="black",
              tickfont=tick_font, zeroline=False, automargin=False, ticklabelstandoff=xstand)
    ya = dict(domain=dom_y, anchor=xa_anchor, type="log", range=[-9, -3], tickvals=log_tickvals,
              ticktext=log_ticktext, showgrid=True, gridcolor=GRID, gridwidth=1, showline=True,
              linecolor="black", linewidth=1, ticks="outside", ticklen=6, tickcolor="black",
              tickfont=tick_font, zeroline=False, automargin=False, ticklabelstandoff=4)
    return xa, ya


xa1, ya1 = scatter_axes([fx(116), fx(577)], [fy(353), fy(65)], "x", "y", 6)
xa2, ya2 = scatter_axes([fx(842), fx(1322)], [fy(362), fy(62)], "x2", "y2", 8)

xa3 = dict(domain=[fx(309), fx(1057)], anchor="y3", type="category", showline=True, linecolor="black",
           linewidth=1, ticks="outside", tickson="boundaries", ticklen=9, tickcolor="black",
           tickangle=-90, tickfont=dict(family=FONT, size=23, color="black", weight="bold"),
           showgrid=False, automargin=False, ticklabelstandoff=10)
ya3 = dict(domain=[fy(870), fy(477)], anchor="x3", range=[0, 0.25], tickvals=charge_tickvals,
           ticktext=charge_ticktext, showgrid=True, gridcolor="#2a2a2a", gridwidth=1, showline=True,
           linecolor="black", linewidth=1, ticks="outside", ticklen=7, tickcolor="black",
           tickfont=dict(family=FONT, size=24, color="black", weight="bold"), zeroline=False,
           automargin=False, ticklabelstandoff=9)

legend_common = dict(bgcolor="white", bordercolor="black", borderwidth=1, xanchor="left", yanchor="top",
                     itemclick=False, itemdoubleclick=False)

shapes = [
    dict(type="rect", xref="x domain", yref="y domain", x0=0, x1=1, y0=0, y1=1,
         fillcolor="#c0c0c0", line=dict(width=0), layer="below"),
    dict(type="rect", xref="x2 domain", yref="y2 domain", x0=0, x1=1, y0=0, y1=1,
         fillcolor="#c0c0c0", line=dict(width=0), layer="below"),
    dict(type="rect", xref="x3 domain", yref="y3 domain", x0=0, x1=1, y0=0, y1=1,
         fillcolor="rgba(0,0,0,0)", line=dict(color="#a0a0a0", width=1), layer="below"),
]


def text_ann(text, x, y, size, angle=0):
    return dict(text=text, x=fx(x), y=fy(y), xref="paper", yref="paper", showarrow=False,
                xanchor="center", yanchor="middle", textangle=angle,
                font=dict(family=FONT, size=size, color="black", weight="bold"))


annotations = [
    text_ann("c-Si 2: Jan/Feb 2012", 356, 16, 18),
    text_ann("c-Si 2: June/July 2012", 1091, 12, 18),
    text_ann("Leakage Current Density&nbsp;&nbsp;&nbsp;[A/m²]", 19, 209, 18, -90),
    text_ann("Leakage Current Density&nbsp;&nbsp;&nbsp;[A/m²]", 741, 212, 18, -90),
    text_ann("1/T&nbsp;&nbsp;&nbsp;&nbsp;&nbsp;[1/K]", 346, 413, 17),
    text_ann("1/T&nbsp;&nbsp;&nbsp;&nbsp;&nbsp;[1/K]", 1081, 425, 17),
    text_ann("Charge&nbsp;&nbsp;&nbsp;[C/m²]", 213, 675, 24, -90),
    text_ann("Leakage current density&nbsp;&nbsp;[A/m²]", 682, 1006, 25),
    # arrows from histogram bars to the outdoor clouds
    dict(text="", x=fx(479), y=fy(247), xref="paper", yref="paper", showarrow=True,
         axref="pixel", ayref="pixel", ax=692 - 479, ay=778 - 247, arrowhead=2, arrowsize=1.4,
         arrowwidth=2.4, arrowcolor="black"),
    dict(text="", x=fx(1163), y=fy(213), xref="paper", yref="paper", showarrow=True,
         axref="pixel", ayref="pixel", ax=829 - 1163, ay=577 - 213, arrowhead=2, arrowsize=1.4,
         arrowwidth=2.4, arrowcolor="black"),
]

fig.update_layout(
    width=W, height=H, margin=dict(l=0, r=0, t=0, b=0), template="none",
    paper_bgcolor="white", plot_bgcolor="rgba(0,0,0,0)",
    font=dict(family=FONT, color="black"),
    xaxis=xa1, yaxis=ya1, xaxis2=xa2, yaxis2=ya2, xaxis3=xa3, yaxis3=ya3,
    barmode="group", bargap=0.44, bargroupgap=0,
    legend=dict(x=fx(604), y=fy(150), itemwidth=32,
                font=dict(family=FONT, size=16, color="black", weight="bold"), **legend_common),
    legend2=dict(x=fx(1349), y=fy(151), itemwidth=32,
                 font=dict(family=FONT, size=16, color="black", weight="bold"), **legend_common),
    legend3=dict(x=fx(392), y=fy(526), tracegroupgap=3,
                 font=dict(family=FONT, size=23, color="black", weight="bold"), **legend_common),
    shapes=shapes, annotations=annotations, showlegend=True,
)

fig.write_html("out.html")
